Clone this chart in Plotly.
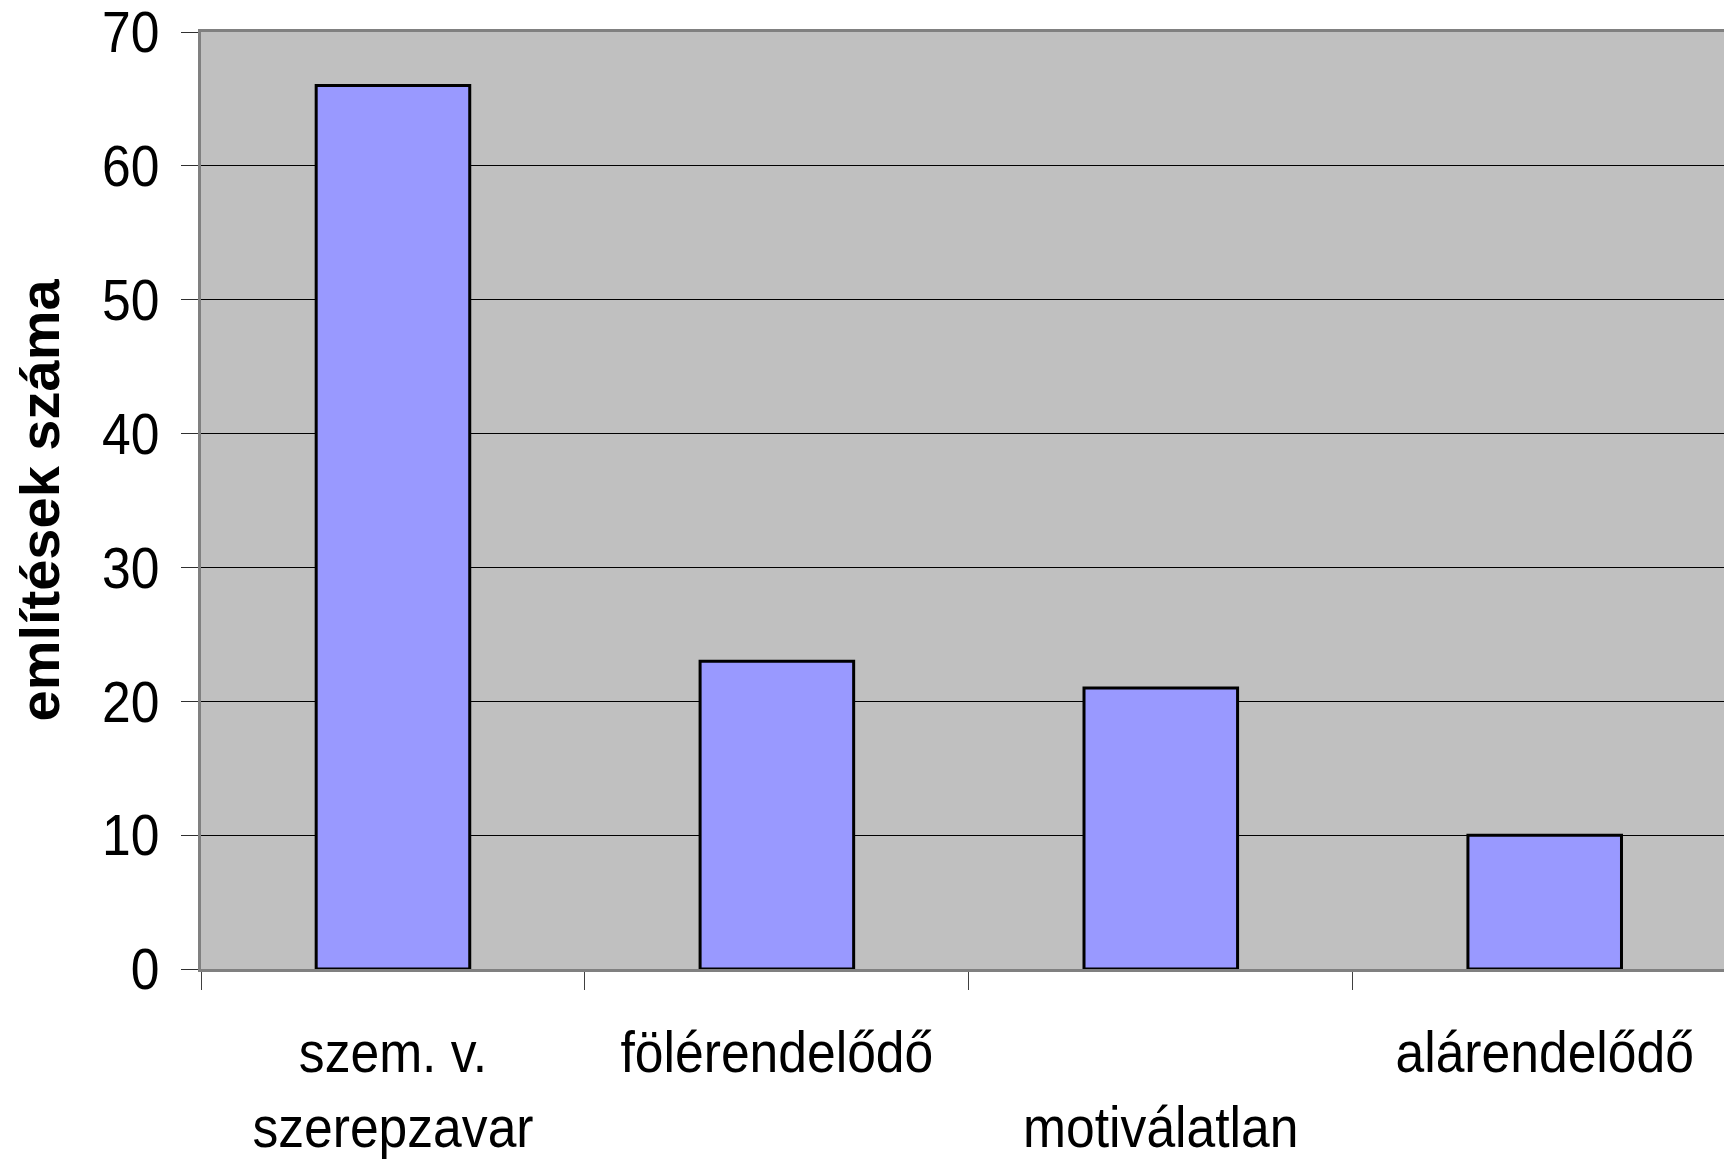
import plotly.graph_objects as go

categories = ["szem. v.<br>szerepzavar", "fölérendelődő", " <br>motiválatlan", "alárendelődő"]
values = [66, 23, 21, 10]
y_ticks = [0, 10, 20, 30, 40, 50, 60, 70]

FONT = "Liberation Sans, Arial, sans-serif"

fig = go.Figure()
fig.add_trace(go.Bar(
    x=categories,
    y=values,
    width=0.4,
    marker=dict(color="#9999FF", line=dict(color="black", width=3)),
))

fig.update_layout(
    width=1724, height=1159,
    margin=dict(l=201, r=0, t=32, b=190),
    paper_bgcolor="white",
    plot_bgcolor="#C0C0C0",
    showlegend=False,
    font=dict(family=FONT, size=58, color="black"),
    annotations=[dict(
        text="<b>említések száma</b>",
        xref="paper", yref="paper",
        x=(39 - 201) / 1523, y=0.5,
        xanchor="center", yanchor="middle",
        textangle=-90, showarrow=False,
        font=dict(family=FONT, size=56, color="black"),
    )],
)

fig.update_xaxes(
    type="category",
    categoryorder="array", categoryarray=categories,
    range=[-0.5, 3.467],
    tickson="boundaries",
    ticks="outside", ticklen=18, tickcolor="#404040", tickwidth=1,
    showgrid=False, zeroline=False,
    showline=True, linecolor="#808080", linewidth=3, mirror=True,
    tickfont=dict(family=FONT, size=58),
    ticklabelstandoff=30,
    automargin=False,
)

fig.update_yaxes(
    range=[0, 70],
    tickmode="array", tickvals=y_ticks,
    ticks="outside", ticklen=17, tickcolor="#303030", tickwidth=1,
    showgrid=True, gridcolor="black", gridwidth=1,
    zeroline=False,
    showline=True, linecolor="#808080", linewidth=3,
    tickfont=dict(family=FONT, size=58),
    ticklabelstandoff=10,
    ticklabeloverflow="allow",
    automargin=False,
)

# Remove default page margin, and narrow the tick-label glyphs horizontally
# (the reference uses a condensed face)
js = """
document.body.style.margin = '0';
document.body.style.overflow = 'hidden';
var gd = document.getElementById('{plot_id}');
function squeeze(){
  var els = gd.querySelectorAll('g.xtick > text, g.ytick > text');
  els.forEach(function(t){
    var tr = t.getAttribute('transform') || '';
    if (tr.indexOf('scale(') >= 0) return;
    var x = parseFloat(t.getAttribute('x')) || 0;
    t.setAttribute('transform', tr + ' translate(' + x + ',0) scale(0.89,1) translate(' + (-x) + ',0)');
  });
}
squeeze();
if (gd.on) { gd.on('plotly_afterplot', squeeze); }
"""

fig.write_html("out.html", post_script=js, config={"displayModeBar": False})
